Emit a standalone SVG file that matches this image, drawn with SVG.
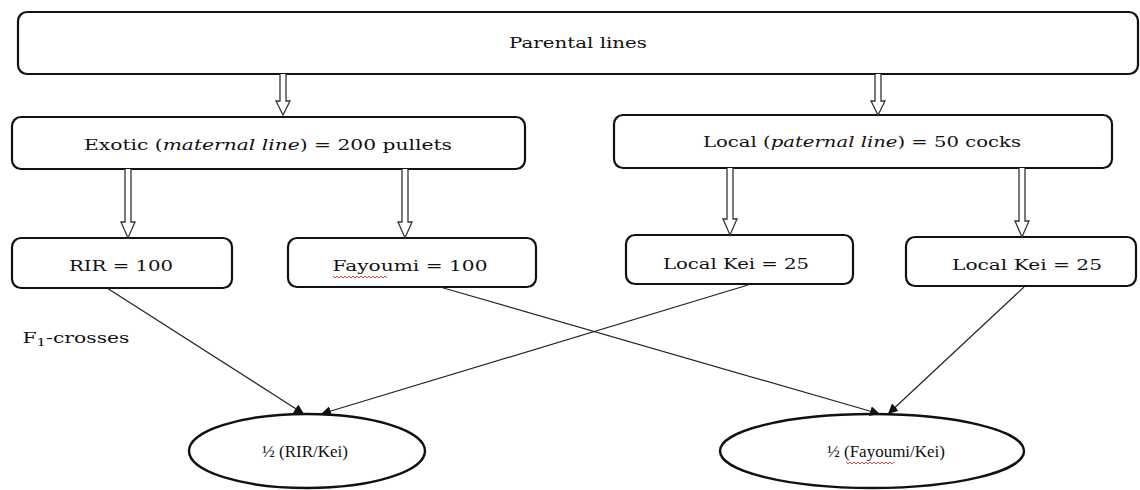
<svg xmlns="http://www.w3.org/2000/svg" width="1140" height="490" viewBox="0 0 1140 490">
<style>
.box{fill:#fff;stroke:#111;stroke-width:2.2}
.ell{fill:#fff;stroke:#111;stroke-width:2.4}
.t{font-family:"DejaVu Serif","Liberation Serif",serif;font-size:15px;fill:#111;text-anchor:middle}
.te{font-family:"Liberation Serif","Times New Roman",serif;font-size:17px;fill:#111;text-anchor:middle}
.hol{fill:#fff;stroke:#333;stroke-width:1.3}
.thin{stroke:#222;stroke-width:1.2;fill:none;marker-end:url(#ah)}
.spell{fill:none;stroke:#e03030;stroke-width:0.9}
</style>
<defs>
<marker id="ah" viewBox="0 0 10 10" refX="10" refY="5" markerWidth="10" markerHeight="10" markerUnits="userSpaceOnUse" orient="auto">
<path d="M0,0 L10,5 L0,10 z" fill="#111"/>
</marker>
</defs>
<rect width="1140" height="490" fill="#fff"/>
<g id="parental"><rect class="box" x="18" y="12" width="1120" height="62" rx="9"/><text class="t" x="578" y="48" textLength="138" lengthAdjust="spacingAndGlyphs">Parental lines</text></g>
<g id="exotic"><rect class="box" x="12" y="117" width="513" height="52" rx="9"/><text class="t" x="268" y="150" textLength="368" lengthAdjust="spacingAndGlyphs">Exotic (<tspan font-style="italic">maternal line</tspan>) = 200 pullets</text></g>
<g id="local"><rect class="box" x="614" y="115" width="498" height="53" rx="9"/><text class="t" x="862" y="147" textLength="318" lengthAdjust="spacingAndGlyphs">Local (<tspan font-style="italic">paternal line</tspan>) = 50 cocks</text></g>
<g id="rir"><rect class="box" x="12" y="238" width="220" height="50" rx="9"/><text class="t" x="121" y="271" textLength="104" lengthAdjust="spacingAndGlyphs">RIR = 100</text></g>
<g id="fayoumi"><rect class="box" x="288" y="238" width="248" height="49" rx="9"/><text class="t" x="410" y="271" textLength="155" lengthAdjust="spacingAndGlyphs">Fayoumi = 100</text><path class="spell" d="M333,276 l2,2 l2,-2 l2,2 l2,-2 l2,2 l2,-2 l2,2 l2,-2 l2,2 l2,-2 l2,2 l2,-2 l2,2 l2,-2 l2,2 l2,-2 l2,2 l2,-2 l2,2 l2,-2 l2,2 l2,-2 l2,2 l2,-2 l2,2 l2,-2 l2,2"/></g>
<g id="kei1"><rect class="box" x="626" y="235" width="227" height="49" rx="9"/><text class="t" x="736" y="269" textLength="146" lengthAdjust="spacingAndGlyphs">Local Kei = 25</text></g>
<g id="kei2"><rect class="box" x="906" y="237" width="230" height="49" rx="9"/><text class="t" x="1027" y="270" textLength="150" lengthAdjust="spacingAndGlyphs">Local Kei = 25</text></g>
<g id="f1label"><text class="t" x="76" y="343" textLength="107" lengthAdjust="spacingAndGlyphs">F<tspan font-size="11" dy="3">1</tspan><tspan dy="-3">-crosses</tspan></text></g>
<g id="cross1"><ellipse class="ell" cx="307" cy="451" rx="118" ry="37"/><text class="te" x="305" y="457">½ (RIR/Kei)</text></g>
<g id="cross2"><ellipse class="ell" cx="872" cy="451" rx="152" ry="37"/><text class="te" x="886" y="457">½ (Fayoumi/Kei)</text><path class="spell" d="M846,462 l2,2 l2,-2 l2,2 l2,-2 l2,2 l2,-2 l2,2 l2,-2 l2,2 l2,-2 l2,2 l2,-2 l2,2 l2,-2 l2,2 l2,-2 l2,2 l2,-2 l2,2 l2,-2 l2,2 l2,-2 l2,2 l2,-2"/></g>
<g id="connectors">
<path class="hol" d="M280,74 V101 H276 L283,115 L290,101 H286 V74"/>
<path class="hol" d="M875,74 V101 H871 L878,115 L885,101 H881 V74"/>
<path class="hol" d="M125,169 V222 H121 L128,238 L135,222 H131 V169"/>
<path class="hol" d="M402,169 V222 H398 L405,238 L412,222 H408 V169"/>
<path class="hol" d="M727,168 V219 H723 L730,235 L737,219 H733 V168"/>
<path class="hol" d="M1019,168 V221 H1015 L1022,237 L1029,221 H1025 V168"/>
<line class="thin" x1="107" y1="288" x2="304" y2="414"/>
<line class="thin" x1="440" y1="287" x2="880" y2="414"/>
<line class="thin" x1="748" y1="285" x2="321" y2="414"/>
<line class="thin" x1="1024" y1="287" x2="888" y2="414"/>
</g>
</svg>
